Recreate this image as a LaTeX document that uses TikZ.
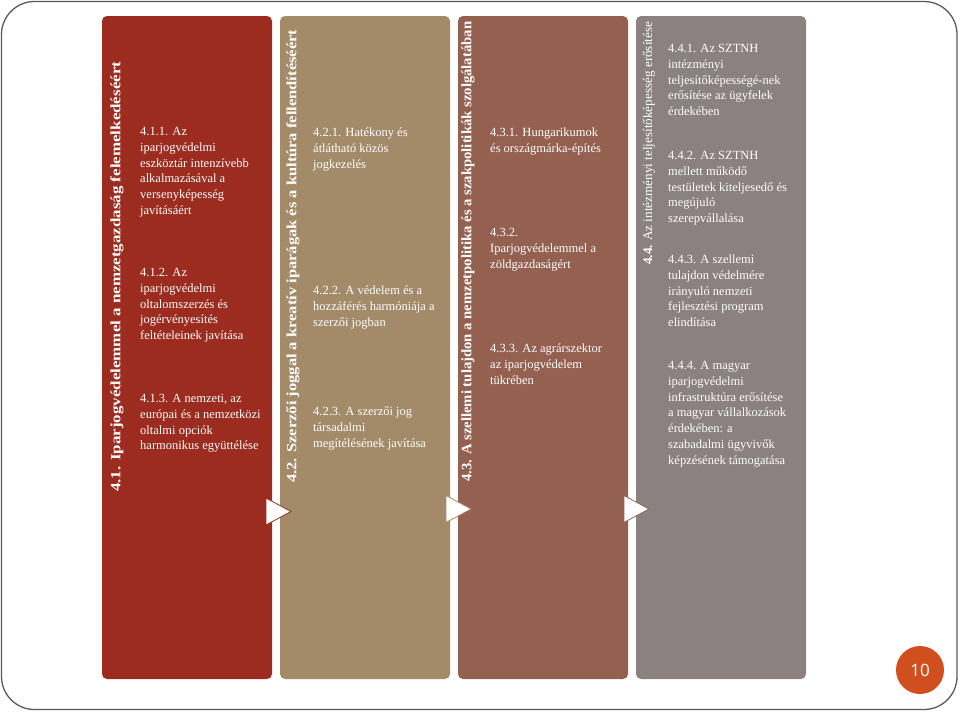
\documentclass[tikz,border=0pt]{standalone}
\usepackage{fontspec}
\setmainfont{Liberation Serif}
\newfontfamily\numfont{Open Sans}
\definecolor{cA}{HTML}{9B2C1F}
\definecolor{cB}{HTML}{A38B69}
\definecolor{cC}{HTML}{946151}
\definecolor{cD}{HTML}{8C8181}
\definecolor{cNum}{HTML}{D14F1F}
\begin{document}
\begin{tikzpicture}[x=1pt,y=-1pt,
  colbox/.style={rounded corners=5pt, minimum width=170pt, minimum height=663pt, inner sep=0pt, draw=none},
  body/.style={text=white, align=left, anchor=north west, inner sep=0pt, font=\fontsize{12.5}{15.9}\selectfont},
  vtitle/.style={text=white, rotate=90, anchor=west, inner sep=0pt},
  tri/.style={fill=white, line width=0.8pt, line join=miter}]
\useasboundingbox (0,0) rectangle (960,712);
\draw[line width=1.3pt, draw=black!65, rounded corners=33pt] (1.5,1.5) rectangle (957,709.5);

% columns
\node[colbox, fill=cA] (c1) at (187,347.5) {};
\node[colbox, fill=cB] (c2) at (365,347.5) {};
\node[colbox, fill=cC] (c3) at (543,347.5) {};
\node[colbox, fill=cD] (c4) at (721,347.5) {};

% vertical titles
\node[vtitle] (t1) at (117,492) {\resizebox{430pt}{10pt}{\bfseries\fontsize{14}{16}\selectfont 4.1. Iparjogvédelemmel a nemzetgazdaság felemelkedéséért}};
\node[vtitle] (t2) at (293,483) {\resizebox{453pt}{10pt}{\bfseries\fontsize{14}{16}\selectfont 4.2. Szerzői joggal a kreatív iparágak és a kultúra fellendítéséért}};
\node[vtitle] (t3) at (468,482) {\resizebox{460pt}{10pt}{\bfseries\fontsize{14}{16}\selectfont 4.3. A szellemi tulajdon a nemzetpolitika és a szakpolitikák szolgálatában}};
\node[vtitle] (t4) at (649,265) {\resizebox{243pt}{!}{\textbf{4.4.} Az intézményi teljesítőképesség erősítése}};

% column 1
\node[body] (b11) at (140,125) {\rule{0pt}{10pt}4.1.1. Az\\iparjogvédelmi\\eszköztár intenzívebb\\alkalmazásával a\\versenyképesség\\javításáért};
\node[body] (b12) at (140,266) {\rule{0pt}{10pt}4.1.2. Az\\iparjogvédelmi\\oltalomszerzés és\\jogérvényesítés\\feltételeinek javítása};
\node[body] (b13) at (140,392) {\rule{0pt}{10pt}4.1.3. A nemzeti, az\\európai és a nemzetközi\\oltalmi opciók\\harmonikus együttélése};

% column 2
\node[body] (b21) at (313,126) {\rule{0pt}{10pt}4.2.1. Hatékony és\\átlátható közös\\jogkezelés};
\node[body] (b22) at (313,284) {\rule{0pt}{10pt}4.2.2. A védelem és a\\hozzáférés harmóniája a\\szerzői jogban};
\node[body] (b23) at (313,405) {\rule{0pt}{10pt}4.2.3. A szerzői jog\\társadalmi\\megítélésének javítása};

% column 3
\node[body] (b31) at (490,126) {\rule{0pt}{10pt}4.3.1. Hungarikumok\\és országmárka-építés};
\node[body] (b32) at (490,226) {\rule{0pt}{10pt}4.3.2.\\Iparjogvédelemmel a\\zöldgazdaságért};
\node[body] (b33) at (490,342) {\rule{0pt}{10pt}4.3.3. Az agrárszektor\\az iparjogvédelem\\tükrében};

% column 4
\node[body] (b41) at (668,42) {\rule{0pt}{10pt}4.4.1. Az SZTNH\\intézményi\\teljesítőképességé-nek\\erősítése az ügyfelek\\érdekében};
\node[body] (b42) at (668,149) {\rule{0pt}{10pt}4.4.2. Az SZTNH\\mellett működő\\testületek kiteljesedő és\\megújuló\\szerepvállalása};
\node[body] (b43) at (668,253) {\rule{0pt}{10pt}4.4.3. A szellemi\\tulajdon védelmére\\irányuló nemzeti\\fejlesztési program\\elindítása};
\node[body] (b44) at (668,359) {\rule{0pt}{10pt}4.4.4. A magyar\\iparjogvédelmi\\infrastruktúra erősítése\\a magyar vállalkozások\\érdekében: a\\szabadalmi ügyvivők\\képzésének támogatása};

% arrows between columns
\draw[tri, draw=cA] (266,498) -- (291,511.5) -- (266,525) -- cycle;
\draw[tri, draw=cB] (446,495.5) -- (471,509) -- (446,522.5) -- cycle;
\draw[tri, draw=cC] (624,495.5) -- (649,509) -- (624,522.5) -- cycle;

% page number
\node[circle, fill=cNum, minimum size=48pt, inner sep=0pt, text=white, font=\numfont\fontsize{17}{17}\selectfont] (pg) at (920,670) {10};
\end{tikzpicture}
\end{document}
